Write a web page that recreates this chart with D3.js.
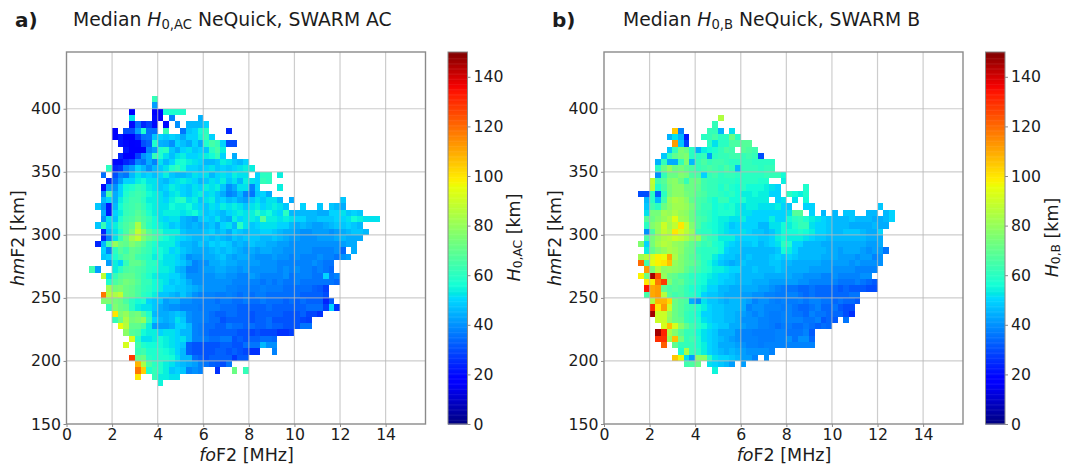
<!DOCTYPE html>
<html><head><meta charset="utf-8">
<script src="https://cdnjs.cloudflare.com/ajax/libs/d3/7.8.5/d3.min.js"></script>
<style>html,body{margin:0;padding:0;background:#fff}svg{display:block}text{font-family:"DejaVu Sans";fill:#1c1c1c}</style>
</head><body><svg id="c" width="1074" height="467"></svg>
<script>
const _ = null;
const foStep = 0.25, hmStep = 5;
const xTicks = [0,2,4,6,8,10,12,14];
const yTicks = [150,200,250,300,350,400];
const cTicks = [0,20,40,60,80,100,120,140];
// each row: [lower hmF2 edge km, index of first foF2 bin, median H0 values km]
const rowsA = [
[405,15,[62]],
[400,15,[42]],
[395,11,[18,_,_,_,17,17,56,58,58,58]],
[390,11,[52,_,_,_,20,18,_,38,_,_,_,_,45]],
[385,11,[20,35,24,28,20,_,20,_,40,_,46,46,46,50]],
[380,8,[18,_,30,30,42,58,35,35,_,62,_,_,36,48,50,56,60,_,_,_,24]],
[375,8,[18,22,18,18,27,35,36,48,50,48,50,48,44,50,50,55,62,50]],
[370,9,[22,20,17,19,30,33,58,45,44,40,50,47,44,50,44,58,65,62,50,30,30]],
[365,10,[22,18,17,19,38,42,58,60,48,44,50,52,48,50,48,60,65,54]],
[360,9,[24,18,18,28,40,44,62,58,52,47,52,54,50,50,52,54,56,62,50,_,44]],
[355,8,[20,20,24,27,38,36,44,38,52,46,50,56,57,54,52,50,46,46,48,54,52,48,46,50]],
[350,7,[60,24,26,38,42,50,46,40,46,48,52,58,62,56,50,50,48,50,52,48,50,48,50,52,54,54]],
[345,6,[35,_,30,38,36,46,52,48,50,47,50,54,48,46,46,48,52,50,52,46,50,52,50,54,52,52,_,50,60,60,_,54]],
[340,7,[24,34,42,50,50,54,56,52,52,48,46,50,52,54,52,50,46,48,52,50,54,48,52,46,54,52,50,62,60]],
[335,6,[20,42,40,50,56,58,62,60,54,52,48,50,54,52,50,48,52,50,54,52,54,48,40,44,52,52,38,50,_,_,_,54]],
[330,6,[38,65,44,50,58,62,64,62,56,54,52,48,52,54,50,48,52,54,50,52,48,44,38,40,46,38,36,48,50,44]],
[325,6,[46,50,44,54,60,64,64,60,54,54,52,50,54,58,60,52,54,48,52,54,48,50,46,48,44,42,48,52,48,52,52,46,_,44,_,_,_,_,_,_,_,_,48]],
[320,5,[48,40,22,46,56,62,64,66,62,56,54,52,52,56,54,54,56,52,50,48,52,50,54,52,54,52,48,52,54,50,52,54,52,48,_,_,50,_,_,48,_,48,46,44]],
[315,6,[44,22,50,54,62,64,68,64,58,54,52,54,54,54,52,54,56,52,48,50,48,46,50,52,54,52,54,60,54,56,52,50,60,46,46,46,46,46,44,44,50,50,52,48,50,48]],
[310,6,[40,52,48,58,64,66,70,66,62,56,52,50,52,52,46,44,42,48,50,48,52,46,44,54,50,52,54,52,68,54,54,52,54,52,50,50,46,46,48,48,48,50,50,52,56,54,52,52,52]],
[305,5,[48,62,50,54,62,66,70,84,68,60,56,54,52,48,50,46,44,46,44,46,48,44,50,52,46,60,52,48,50,52,52,52,50,50,46,44,46,44,42,42,44,46,48,48,50,48,46]],
[300,6,[24,46,52,58,66,74,88,78,68,62,60,54,54,54,48,46,46,46,48,50,46,48,44,50,48,46,48,48,50,50,48,46,44,44,42,40,40,42,42,42,40,42,44,46,48,48,46]],
[295,6,[24,38,52,62,72,82,88,76,70,66,60,56,54,52,50,48,46,46,48,46,48,46,44,48,46,48,48,48,46,46,48,46,44,42,42,40,40,40,42,42,42,44,46,44,44,44]],
[290,5,[24,46,64,80,72,70,76,72,68,62,58,54,54,54,50,46,46,44,48,46,50,48,50,48,44,46,44,48,46,46,44,44,42,42,40,40,40,40,40,40,40,40,40,42,44,44]],
[285,6,[50,38,60,68,64,70,68,64,62,56,56,54,50,52,48,46,44,44,44,46,48,46,48,46,44,42,44,42,44,44,42,42,40,40,40,40,40,38,38,38,38,40,34,_,44]],
[280,6,[48,50,58,64,68,70,64,62,60,54,56,52,52,50,46,40,42,42,44,44,46,48,44,42,44,44,42,40,40,40,42,40,40,38,40,38,38,38,40,38,38,36,40,42]],
[275,7,[42,54,50,62,70,70,66,60,60,54,52,52,50,48,44,38,40,40,44,44,46,44,44,42,42,42,42,40,40,40,38,38,38,38,38,38,40,38,36,36]],
[270,4,[64,42,_,_,54,60,66,68,66,64,60,58,54,54,52,46,44,38,38,40,42,42,44,44,42,42,40,42,40,40,40,40,40,38,40,38,40,38,38,36,38,36,34]],
[265,6,[88,52,62,68,70,70,66,62,58,54,52,52,50,50,46,40,40,40,40,40,42,42,40,40,38,38,42,40,38,38,38,38,40,36,38,38,38,36,36,50,36,38]],
[260,7,[58,66,70,74,72,68,62,62,56,54,52,48,50,48,44,40,40,40,40,40,40,40,38,38,38,38,38,36,38,36,38,36,36,38,36,36,36,36,36,36,34]],
[255,7,[82,74,76,72,70,66,62,60,56,54,50,50,48,48,46,44,42,40,40,40,40,38,38,37,37,37,37,38,37,37,37,35,35,35,35,35,33,32,28]],
[250,6,[118,86,84,88,72,70,66,60,58,54,48,48,46,44,48,44,40,38,38,38,37,37,38,37,35,37,35,37,37,35,35,35,35,35,35,33,33,33,33,30]],
[245,6,[76,76,74,72,66,60,56,58,50,48,48,42,44,44,40,40,38,38,37,37,35,37,37,35,35,37,35,35,37,35,35,35,33,35,33,35,33,33,33,24,32]],
[240,7,[62,76,72,70,60,54,52,52,48,44,42,40,40,38,38,38,37,37,37,37,35,35,35,33,33,33,33,33,35,33,33,33,33,33,33,35,35,35,28,50,26]],
[235,8,[100,76,80,72,74,66,58,46,44,44,46,48,46,40,38,38,37,35,33,33,35,35,33,33,31,33,33,33,33,33,31,31,31,33,29,29,26]],
[230,8,[62,72,84,74,76,80,62,50,46,44,46,52,48,40,38,38,37,35,35,31,33,33,33,33,31,33,33,35,31,31,31,31,31,29,28]],
[225,9,[96,86,70,70,66,54,42,42,42,44,50,50,46,38,37,35,35,33,33,37,35,35,33,35,33,33,35,33,33,31,31,31,36,36]],
[220,10,[78,68,66,56,54,54,50,52,52,50,46,46,38,37,35,33,33,33,33,33,31,31,29,31,29,29,29,26,26,28]],
[215,11,[92,60,52,52,54,56,54,52,50,52,46,38,38,37,35,35,37,37,31,33,31,33,33,35,35,34]],
[210,10,[92,_,64,58,56,56,56,54,52,50,48,33,31,31,31,31,31,33,33,31,31,35,36,36,46,40,40]],
[205,12,[62,64,58,58,58,56,54,50,46,33,31,31,31,31,33,33,31,33,31,29,26,26,_,_,38]],
[200,11,[128,70,72,60,58,58,58,56,52,46,46,35,33,31,33,33,33,33,27,32,32]],
[195,12,[108,84,66,60,58,54,52,48,46,44,42,38,36,33,32,30,36]],
[190,12,[118,104,58,62,58,54,48,50,48,38,40,38,_,_,26,_,_,72,_,62]],
[185,12,[100,_,_,62,54,54,52,52]],
[180,16,[55]]
];
const rowsB = [
[390,20,[85]],
[385,19,[62]],
[380,12,[105,38,_,_,_,_,62,62,45,_,52]],
[375,11,[45,52,45,22,_,_,60,62,65,60,60,72,60]],
[370,12,[112,48,28,_,_,_,60,52,60,60,66,66,68,68]],
[365,11,[48,62,75,72,60,45,54,56,58,62,66,64,_,68,66,64]],
[360,10,[48,62,70,74,76,60,60,62,42,60,62,62,64,64,62,64,62,30]],
[355,9,[45,62,44,44,62,76,46,62,66,62,64,64,62,60,60,62,62,60,60,60,60]],
[350,9,[60,72,80,72,74,70,66,62,64,66,64,62,66,62,46,62,62,62,60,62,62]],
[345,9,[40,62,72,72,76,74,66,66,50,62,64,60,62,62,60,60,60,60,60,62,62,62,56]],
[340,8,[88,64,68,76,78,72,62,72,72,64,62,62,60,60,60,58,60,60,60,58,58,_,_,54]],
[335,8,[86,58,66,74,78,78,72,72,70,64,62,62,58,62,58,56,60,56,56,56,54,52,50,_,_,_,_,58]],
[330,6,[30,30,60,32,60,74,78,78,74,72,68,66,62,62,60,58,60,56,54,54,56,54,54,50,50,_,60,56,54,58]],
[325,7,[46,60,46,64,80,84,82,78,70,66,64,60,56,62,62,56,56,58,54,54,54,54,_,50,52,_,52,_,56]],
[320,7,[48,64,60,72,78,82,82,80,74,66,62,62,56,58,56,58,54,52,54,54,52,52,52,54,50,48,_,_,50,50,_,_,_,_,_,_,_,_,_,_,_,48]],
[315,7,[52,74,74,82,80,84,80,78,72,64,62,60,56,58,58,58,54,52,52,50,50,50,50,50,50,52,68,68,_,50,_,46,_,46,_,48,48,_,_,46,46,_,46,50]],
[310,7,[68,72,76,80,84,94,82,80,72,66,64,60,56,54,54,52,52,54,50,50,50,50,54,50,50,56,60,62,58,54,52,50,48,46,46,46,48,46,46,46,44,44,46,50]],
[305,7,[60,76,80,90,82,88,100,88,76,66,60,58,56,54,52,48,50,50,50,50,46,46,52,52,56,54,58,62,62,52,50,50,48,46,46,46,44,44,44,44,46,44,44]],
[300,7,[40,66,80,88,84,100,92,86,80,62,60,60,56,54,52,50,50,52,50,48,48,46,48,52,56,56,56,58,56,54,50,50,48,46,46,48,48,48,46,44,44,50]],
[295,7,[66,74,80,84,86,90,88,84,78,80,66,62,60,54,54,54,50,50,50,50,48,48,50,54,56,54,54,54,52,50,48,48,46,46,46,46,46,46,46,44,44,44]],
[290,6,[76,50,74,82,86,84,80,78,74,70,66,62,64,58,56,52,50,48,48,48,50,46,48,50,52,60,58,50,50,46,46,46,44,44,44,44,44,44,44,44,42,42,44]],
[285,7,[54,70,76,80,84,82,78,72,70,62,60,60,60,56,50,48,48,46,46,46,46,46,46,48,56,54,50,46,46,46,46,46,44,44,42,44,44,44,42,40,42,42,36]],
[280,6,[82,86,92,98,96,110,84,76,72,68,64,60,60,54,50,48,48,46,46,48,46,46,46,48,50,48,50,48,46,46,46,46,44,44,44,42,42,42,40,42,42,38,40]],
[275,6,[120,64,94,98,100,106,80,76,72,70,66,60,56,52,48,46,44,46,48,46,46,46,46,48,48,46,46,44,44,44,44,44,42,42,42,42,42,40,42,40,40,40,40]],
[270,7,[112,74,86,78,80,78,76,70,66,64,60,58,54,54,52,50,50,46,46,48,46,46,46,48,46,44,44,44,44,42,42,42,42,40,40,40,40,38,38,38,38]],
[265,6,[98,72,146,124,80,72,70,66,64,60,58,56,54,52,50,50,48,46,46,46,46,46,44,44,44,44,44,42,42,40,40,40,38,38,40,38,38,38,38,40,40]],
[260,7,[100,98,118,128,76,68,70,64,62,58,56,52,52,50,48,48,46,46,46,44,44,44,42,42,42,42,42,40,40,38,38,38,38,38,36,36,36,38,36,34,32]],
[255,7,[134,110,112,70,66,68,66,62,58,56,54,50,50,46,46,44,44,44,44,44,42,42,40,38,37,36,36,34,34,36,34,34,34,34,32,34,32,32,32,30,30]],
[250,7,[65,110,112,86,68,64,66,62,60,56,50,48,48,46,44,44,44,42,42,40,40,38,38,37,37,38,38,36,34,36,34,34,34,34,34,34,36,36]],
[245,8,[85,108,108,102,72,68,66,44,40,52,48,48,46,44,46,46,44,42,38,40,40,38,37,38,37,37,38,36,38,38,36,36,34,36,34,34,32]],
[240,8,[130,100,112,90,72,68,64,62,58,54,50,48,48,46,46,46,44,38,40,40,38,38,38,37,38,36,34,34,36,38,34,34,36,32,30,30]],
[235,8,[146,90,90,80,72,68,62,60,56,50,50,48,48,46,46,44,42,40,38,40,38,37,37,38,38,36,36,34,38,36,36,34,34,34,30,26]],
[230,9,[90,90,78,72,70,62,60,58,52,50,48,48,46,46,44,40,40,40,38,38,37,37,38,38,38,38,36,36,38,32,34,32,_,36]],
[225,10,[92,106,92,78,70,64,60,56,52,50,48,48,44,44,42,40,40,38,38,37,35,37,37,35,35,37,35,33,35,34]],
[220,9,[146,132,84,76,68,62,62,56,52,50,48,44,44,44,40,38,38,37,37,37,37,38,38,36,36,36,38,32]],
[215,9,[130,130,80,106,74,62,64,58,52,50,48,46,44,42,40,38,38,38,37,37,37,38,38,40,36,40,40,34]],
[210,10,[122,_,70,62,62,62,58,54,50,48,44,44,44,42,40,38,38,37,38,38,38,38,38,38,38,38,38]],
[205,13,[58,84,62,60,54,50,48,46,44,46,44,42,40,40,40,40,38]],
[200,12,[105,95,52,42,78,78,60,52,50,50,48,46,42,42,38,_,40]],
[195,14,[64,66,72,_,52,50,48,46,42,_,42]],
[190,19,[55]]
];
const jetStops = [0,0.11,0.125,0.34,0.35,0.375,0.64,0.65,0.66,0.89,0.91,1];
const jetR = [0,0,0,0,0,0.0806,0.9194,0.9677,1,1,0.9545,0.5];
const jetG = [0,0,0,0.86,0.9,1,1,0.9643,0.9286,0.0917,0,0];
const jetB = [0.5,1,1,1,0.9,0.839,0.0286,0,0,0,0,0];
const jetScales = [jetR,jetG,jetB].map(r=>d3.scaleLinear().domain(jetStops).range(r));
const valueScale = d3.scaleLinear().domain([0,150]).range([0,1]).clamp(true);
const jet = v => { const t=valueScale(v); const c=jetScales.map(s=>Math.round(255*s(t))); return `rgb(${c[0]},${c[1]},${c[2]})`; };

const svg = d3.select('#c');
const T = 52, B = 424;
const frameColor = '#8a8a8a', gridColor = '#b8b8b8';
const fs = 15.7, labelFs = 17.5;

function labelled(sel, parts){
  parts.forEach(p=>{
    const t = sel.append('tspan').text(p.t);
    if(p.i) t.attr('font-style','italic');
    if(p.sub) t.attr('font-size','0.7em').attr('dy','0.2em');
    if(p.up) t.attr('dy','-0.14em');
  });
}
function panel(cfg){
  const x = d3.scaleLinear().domain([0,15.75]).range([cfg.L,cfg.L+359]);
  const y = d3.scaleLinear().domain([150,445]).range([B,T]);
  const g = svg.append('g');
  const cells = [];
  cfg.rows.forEach(([hm,first,vals])=>vals.forEach((v,i)=>{ if(v!==null) cells.push({hm,k:first+i,v}); }));
  g.selectAll('rect.cell').data(cells).join('rect').attr('class','cell')
    .attr('x',d=>x(d.k*foStep)).attr('y',d=>y(d.hm+hmStep))
    .attr('width',d=>x((d.k+1)*foStep)-x(d.k*foStep))
    .attr('height',d=>y(d.hm)-y(d.hm+hmStep))
    .attr('fill',d=>jet(d.v)).attr('shape-rendering','crispEdges');
  // grid
  g.selectAll('line.gx').data(xTicks.slice(1)).join('line').attr('x1',x).attr('x2',x).attr('y1',T).attr('y2',B)
    .attr('stroke',gridColor).attr('stroke-opacity',0.7).attr('stroke-width',1.2);
  g.selectAll('line.gy').data(yTicks.slice(1)).join('line').attr('y1',y).attr('y2',y).attr('x1',cfg.L).attr('x2',cfg.L+359)
    .attr('stroke',gridColor).attr('stroke-opacity',0.7).attr('stroke-width',1.2);
  // axes
  const ax = g.append('g').attr('transform',`translate(0,${B})`).call(d3.axisBottom(x).tickValues(xTicks).tickSize(3).tickPadding(2));
  const ay = g.append('g').attr('transform',`translate(${cfg.L},0)`).call(d3.axisLeft(y).tickValues(yTicks).tickSize(3).tickPadding(2.5));
  [ax,ay].forEach(a=>{ a.selectAll('text').attr('font-family','DejaVu Sans').attr('font-size',fs).attr('fill','#1c1c1c');
    a.select('.domain').remove(); a.selectAll('line').attr('stroke',frameColor); });
  g.append('rect').attr('x',cfg.L).attr('y',T).attr('width',359).attr('height',B-T)
    .attr('fill','none').attr('stroke',frameColor).attr('stroke-width',1.4);
  // texts
  svg.append('text').attr('x',cfg.tagX).attr('y',27).attr('font-size',20).attr('font-weight','bold').text(cfg.tag);
  labelled(svg.append('text').attr('x',cfg.titleX).attr('y',26).attr('font-size',18.8),
    [{t:'Median '},{t:'H',i:1},{t:cfg.sub,sub:1},{t:' '+cfg.titleEnd,up:1}]);
  labelled(svg.append('text').attr('x',cfg.L+180).attr('y',461).attr('text-anchor','middle').attr('font-size',labelFs),
    [{t:'fo',i:1},{t:'F2 [MHz]'}]);
  labelled(svg.append('text').attr('transform',`translate(${cfg.L-43},238) rotate(-90)`).attr('text-anchor','middle').attr('font-size',labelFs),
    [{t:'hm',i:1},{t:'F2 [km]'}]);
  // colorbar
  const cx = cfg.L+381.5, cw = 19.5;
  const cy = d3.scaleLinear().domain([0,150]).range([B,T]);
  const levels = d3.range(0,150,0.5);
  g.selectAll('rect.cb').data(levels).join('rect').attr('class','cb').attr('x',cx).attr('width',cw)
    .attr('y',d=>cy(d+0.5)).attr('height',d=>cy(d)-cy(d+0.5)+0.5).attr('fill',d=>jet(d+0.25));
  const ac = g.append('g').attr('transform',`translate(${cx+cw},0)`).call(d3.axisRight(cy).tickValues(cTicks).tickSize(3).tickPadding(3));
  ac.select('.domain').remove(); ac.selectAll('line').attr('stroke',frameColor);
  ac.selectAll('text').attr('font-family','DejaVu Sans').attr('font-size',fs).attr('fill','#1c1c1c');
  g.append('rect').attr('x',cx).attr('y',T).attr('width',cw).attr('height',B-T).attr('fill','none').attr('stroke',frameColor).attr('stroke-width',1);
  labelled(svg.append('text').attr('transform',`translate(${cx+cw+52.5},237.5) rotate(-90)`).attr('text-anchor','middle').attr('font-size',labelFs),
    [{t:'H',i:1},{t:cfg.sub,sub:1},{t:' [km]',up:1}]);
}
panel({L:66.5,rows:rowsA,tag:'a)',tagX:15,titleX:73,sub:'0,AC',titleEnd:'NeQuick, SWARM AC'});
panel({L:604,rows:rowsB,tag:'b)',tagX:552,titleX:623,sub:'0,B',titleEnd:'NeQuick, SWARM B'});
</script></body></html>
